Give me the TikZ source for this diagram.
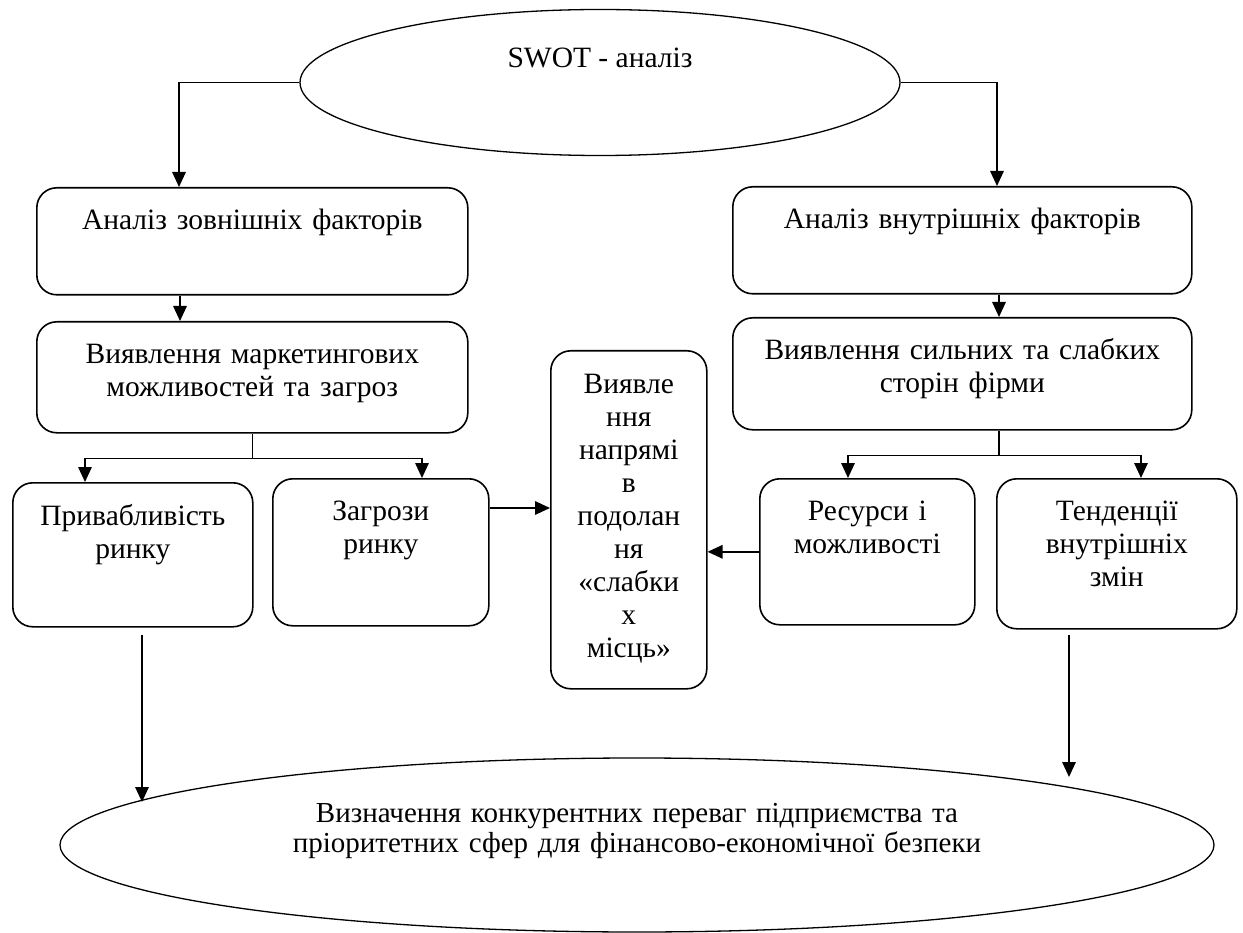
\documentclass[tikz,border=0pt]{standalone}
\usepackage{fontspec}
\setmainfont{Liberation Serif}
\usetikzlibrary{shapes.geometric, arrows.meta}
\tikzset{
  riquadro/.style={draw, line width=1.6pt, rounded corners=20pt, inner sep=0pt, anchor=north west, align=center, text height=42pt, font=\fontsize{29.5}{33}\selectfont},
  ovale/.style={draw, ellipse, line width=1.3pt, inner sep=0pt, text height=0pt},
  freccia/.style={line width=1.6pt, -{Triangle[length=15pt,width=13.5pt]}}
}

\begin{document}
\begin{tikzpicture}[x=1pt, y=-1pt]
    \useasboundingbox (0,0) rectangle (1243,933);
    % Ellissi
    \node[ovale, minimum width=600pt, minimum height=146pt, text depth=29pt, font=\fontsize{29.5}{33}\selectfont] (swot) at (600,82.5) {SWOT - аналіз};
    \node[ovale, minimum width=1154pt, minimum height=174pt, text depth=46pt, text width=760pt, align=center, font=\fontsize{29}{30}\selectfont] (perevahy) at (637,845) {Визначення конкурентних переваг підприємства та\\пріоритетних сфер для фінансово-економічної безпеки};
    % Riquadri
    \node[riquadro, text width=431pt, text depth=65pt] (zovn) at (36,187) {Аналіз зовнішніх факторів};
    \node[riquadro, text width=431pt, text depth=69pt] (zovnmozh) at (36,321) {Виявлення маркетингових\\можливостей та загроз};
    \node[riquadro, text width=459pt, text depth=65pt] (vnutr) at (732,186) {Аналіз внутрішніх факторів};
    \node[riquadro, text width=459pt, text depth=70pt] (vnutrsyl) at (732,317) {Виявлення сильних та слабких\\сторін фірми};
    \node[riquadro, text width=240pt, text height=43pt, text depth=101pt] (pryvab) at (12,482) {Привабливість\\ринку};
    \node[riquadro, text width=216pt, text depth=105pt] (zagrozy) at (272,478) {Загрози\\ринку};
    \node[riquadro, text width=156pt, text height=43pt, text depth=295pt] (napriamy) at (550,350) {Виявле\\ння\\напрямі\\в\\подолан\\ня\\«слабки\\х\\місць»};
    \node[riquadro, text width=215pt, text depth=104pt] (resursy) at (759,478) {Ресурси і\\можливості};
    \node[riquadro, text width=240pt, text depth=108pt] (tendencii) at (996,478) {Тенденції\\внутрішніх\\змін};
    % Frecce
    \coordinate (sx) at (142,802);
    \coordinate (dx) at (1069,777);
    \draw[freccia] (swot.west) -| ([xshift=143pt]zovn.north west);
    \draw[freccia] (swot.east) -| ([xshift=265pt]vnutr.north west);
    \draw[freccia] ([xshift=144pt]zovn.south west) -- ([xshift=144pt]zovnmozh.north west);
    \draw[freccia] ([xshift=267pt]vnutr.south west) -- ([xshift=267pt]vnutrsyl.north west);
    \draw[freccia] (zovnmozh.south) -- ++(0,25) -| ([xshift=73pt]pryvab.north west);
    \draw[freccia] (zovnmozh.south) -- ++(0,25) -| ([xshift=150pt]zagrozy.north west);
    \draw[freccia] ([xshift=267pt]vnutrsyl.south west) -- ++(0,25) -| ([xshift=89pt]resursy.north west);
    \draw[freccia] ([xshift=267pt]vnutrsyl.south west) -- ++(0,25) -| ([xshift=145pt]tendencii.north west);
    \draw[freccia] ([yshift=-30pt]zagrozy.north east) -- ([yshift=-30pt]zagrozy.north east -| napriamy.west);
    \draw[freccia] (resursy.west) -- (resursy.west -| napriamy.east);
    \draw[freccia] ([xshift=130pt,yshift=-7pt]pryvab.south west) -- (sx);
    \draw[freccia] ([xshift=73pt,yshift=-5pt]tendencii.south west) -- (dx);
\end{tikzpicture}
\end{document}
